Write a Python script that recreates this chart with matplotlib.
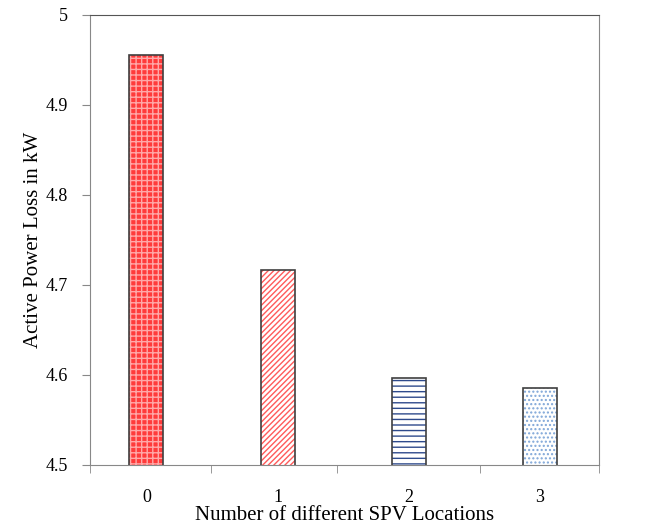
import numpy as np
import matplotlib.pyplot as plt
plt.rcParams["font.family"] = "Liberation Serif"

locations = ['0', '1', '2', '3']
power_loss = [4.955, 4.717, 4.597, 4.585]
y_ticks = [4.5, 4.6, 4.7, 4.8, 4.9, 5.0]
y_ticklabels = ['4.5', '4.6', '4.7', '4.8', '4.9', '5']

fills = ['#ff3b3b', 'white', 'white', 'white']
hatches = ['+++', '//////', '---', '....']
hatch_cols = ['#ffa8a8', '#ff5a5a', '#2e4a8c', '#7fa6d8']

fig = plt.figure(figsize=(6.47, 5.29), dpi=100)
ax = fig.add_axes([0.139, 0.121, 0.787, 0.851])

x = np.arange(len(locations))
w = 0.26
ax.bar(x, power_loss, width=w, color=fills, hatch=hatches,
       edgecolor=hatch_cols, linewidth=0, zorder=2)
ax.bar(x, power_loss, width=w, color='none', edgecolor='#404040',
       linewidth=1.2, zorder=3)

ax.set_ylim(4.5, 5.0)
ax.set_xlim(-0.43, 3.45)
ax.set_yticks(y_ticks)
ax.set_yticklabels(y_ticklabels, fontsize=13)
ax.set_xticks(x)
ax.set_xticklabels(locations, fontsize=13)
ax.tick_params(axis='x', length=0, pad=17)
ax.set_xticks([-0.43, 0.49, 1.45, 2.54, 3.45], minor=True)
ax.tick_params(axis='x', which='minor', length=6, color='#888888')
ax.tick_params(axis='y', length=6, color='#888888', pad=10)

for s in ax.spines.values():
    s.set_color('#888888')
ax.spines['top'].set_color('#555555')

ax.set_ylabel('Active Power Loss in kW', fontsize=15, labelpad=2)
ax.set_xlabel('Number of different SPV Locations', fontsize=15, labelpad=0)

plt.savefig('out.png', dpi=100)
